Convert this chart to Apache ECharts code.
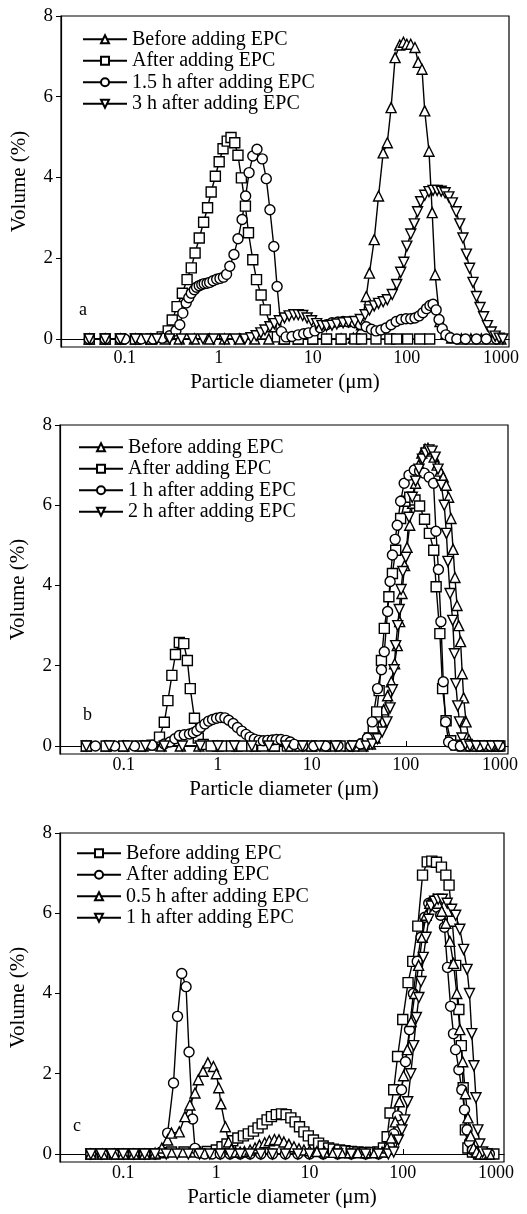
<!DOCTYPE html>
<html>
<head>
<meta charset="utf-8">
<title>Particle size distribution after adding EPC</title>
<script src="https://cdn.jsdelivr.net/npm/echarts@6.0.0/dist/echarts.min.js"></script>
<style>
  body { margin: 0; background: #fff; }
  .panel { position: absolute; left: 0; width: 527px; }
</style>
</head>
<body>
<div id="pa" class="panel" style="top:0;height:400px"></div>
<div id="pb" class="panel" style="top:400px;height:408px"></div>
<div id="pc" class="panel" style="top:808px;height:406px"></div>
<script>
// [particle diameter (um), volume (%)]

// panel a
var namesA = ['Before adding EPC', 'After adding EPC', '1.5 h after adding EPC', '3 h after adding EPC'];
var aBefore = [[0.042,0],[0.062,0],[0.09,0],[0.13,0],[0.19,0],[0.27,0],[0.38,0],[0.55,0],[0.8,0],[1.15,0],[1.65,0],[2.4,0],[3.4,0],[4.9,0],[7,0],[10,0],[14,0],[20,0],[27,0.02],[33,0.35],[37,1.05],[40,1.63],[45,2.46],[50,3.54],[56,4.61],[62,4.86],[68,5.73],[75,6.97],[84,7.28],[92,7.35],[100,7.3],[110,7.3],[122,7.22],[132,6.85],[145,6.68],[155,5.65],[172,4.65],[186,3.13],[200,1.59],[225,0.43],[260,0.13],[300,0.02],[380,0],[480,0],[620,0],[800,0],[1000,0]];
var aAfter = [[0.042,0],[0.062,0],[0.09,0],[0.13,0],[0.19,0],[0.25,0.05],[0.29,0.2],[0.32,0.47],[0.36,0.8],[0.41,1.13],[0.46,1.47],[0.51,1.76],[0.56,2.13],[0.62,2.5],[0.69,2.89],[0.76,3.25],[0.83,3.64],[0.92,4.03],[1.01,4.39],[1.11,4.71],[1.23,4.9],[1.35,4.99],[1.48,4.86],[1.6,4.55],[1.74,3.99],[1.92,3.29],[2.07,2.63],[2.3,1.96],[2.52,1.47],[2.82,1.09],[3.12,0.72],[3.6,0.3],[4.2,0.05],[5,0],[7,0],[10,0],[14,0],[20,0],[28,0],[33,0],[47,0],[66,0],[78,0],[102,0],[137,0],[175,0]];
var a15h = [[0.042,0],[0.062,0],[0.09,0],[0.1,0],[0.15,0],[0.2,0],[0.25,0.02],[0.3,0.08],[0.35,0.2],[0.385,0.35],[0.415,0.64],[0.45,0.89],[0.48,1.02],[0.51,1.13],[0.55,1.22],[0.58,1.28],[0.62,1.32],[0.66,1.35],[0.7,1.37],[0.75,1.38],[0.8,1.4],[0.87,1.44],[0.95,1.48],[1.03,1.5],[1.12,1.53],[1.21,1.6],[1.31,1.8],[1.45,2.09],[1.6,2.48],[1.77,2.96],[1.93,3.54],[2.1,4.12],[2.3,4.53],[2.55,4.7],[2.9,4.46],[3.2,3.97],[3.5,3.2],[3.85,2.29],[4.17,1.3],[4.64,0.18],[5.2,0.05],[6,0.06],[7,0.1],[8,0.13],[9,0.15],[10.5,0.2],[12,0.28],[14,0.35],[16,0.4],[18.5,0.42],[21,0.43],[24,0.42],[28,0.4],[32,0.36],[37,0.3],[42,0.24],[47,0.2],[53,0.22],[60,0.27],[68,0.35],[77,0.43],[87,0.48],[98,0.5],[110,0.5],[122,0.52],[135,0.57],[148,0.65],[162,0.75],[176,0.83],[190,0.86],[205,0.72],[220,0.48],[238,0.25],[260,0.1],[290,0.03],[340,0],[420,0],[550,0],[700,0],[900,0]];
var a3h = [[0.042,0],[0.062,0],[0.09,0],[0.13,0],[0.17,0],[0.22,0],[0.3,0],[0.4,0],[0.52,0],[0.68,0],[0.88,0],[1.15,0],[1.5,0],[1.9,0],[2.2,0.03],[2.5,0.08],[2.8,0.15],[3.1,0.22],[3.5,0.3],[3.9,0.38],[4.4,0.45],[5,0.52],[5.6,0.57],[6.3,0.6],[7,0.6],[7.8,0.58],[8.7,0.52],[9.7,0.45],[11,0.38],[12.5,0.33],[14,0.32],[16,0.34],[18,0.37],[21,0.4],[24,0.42],[28,0.43],[32,0.48],[36,0.6],[40,0.72],[45,0.82],[50,0.88],[56,0.92],[62,0.97],[70,1.1],[78,1.35],[86,1.65],[93,1.9],[100,2.3],[110,2.6],[120,2.85],[130,3.15],[140,3.4],[155,3.56],[172,3.65],[190,3.68],[210,3.68],[232,3.66],[255,3.62],[280,3.52],[305,3.37],[335,3.15],[365,2.85],[395,2.5],[430,2.1],[465,1.75],[505,1.4],[550,1.05],[600,0.78],[655,0.55],[720,0.33],[790,0.17],[870,0.07],[960,0.02],[1050,0]];

// panel b
var namesB = ['Before adding EPC', 'After adding EPC', '1 h after adding EPC', '2 h after adding EPC'];
var bBefore = [[0.04,0],[0.065,0],[0.1,0],[0.16,0],[0.25,0],[0.4,0],[0.63,0],[1,0],[1.6,0],[2.5,0],[4,0],[6.3,0],[10,0],[16,0],[25,0],[35,0],[42,0.05],[47,0.2],[52,0.5],[58,0.9],[64,1.25],[70,1.6],[76,2.05],[81,2.5],[86,3.1],[91,3.8],[97,4.5],[103,4.95],[110,5.5],[118,6.05],[127,6.55],[137,7.0],[148,7.3],[160,7.4],[172,7.42],[186,7.35],[200,7.2],[215,7.0],[232,6.85],[250,6.7],[268,6.5],[285,6.2],[302,5.67],[318,4.9],[333,4.2],[350,3.5],[365,3.0],[382,2.6],[398,1.8],[412,1.2],[437,0.6],[470,0.15],[510,0.03],[580,0],[680,0],[800,0],[950,0]];
var bAfter = [[0.04,0],[0.065,0],[0.1,0],[0.15,0],[0.2,0.02],[0.24,0.22],[0.27,0.59],[0.295,1.13],[0.325,1.76],[0.355,2.28],[0.39,2.58],[0.435,2.55],[0.475,2.13],[0.51,1.43],[0.565,0.69],[0.62,0.2],[0.7,0.04],[0.85,0],[1.1,0],[1.4,0],[1.8,0],[2.3,0],[3,0],[4,0],[5.5,0],[7.5,0],[10,0],[14,0],[20,0],[28,0],[36,0.05],[41,0.2],[45,0.45],[49,0.85],[52,1.38],[55,2.13],[59,2.93],[66,3.72],[72,4.3],[78,4.88],[88,5.67],[98,6.1],[110,6.2],[125,6.13],[140,5.98],[158,5.65],[178,5.3],[198,4.88],[210,3.97],[230,2.8],[246,1.43],[268,0.63],[300,0.13],[340,0.02],[400,0],[500,0],[650,0],[850,0],[1000,0]];
var b1h = [[0.05,0],[0.08,0],[0.13,0],[0.2,0.02],[0.27,0.05],[0.31,0.1],[0.35,0.18],[0.39,0.26],[0.44,0.28],[0.5,0.3],[0.55,0.33],[0.6,0.38],[0.66,0.47],[0.73,0.55],[0.8,0.62],[0.88,0.66],[0.97,0.69],[1.07,0.71],[1.19,0.7],[1.31,0.64],[1.46,0.56],[1.62,0.46],[1.8,0.37],[2.0,0.29],[2.2,0.22],[2.45,0.17],[2.75,0.14],[3.05,0.13],[3.4,0.14],[3.8,0.15],[4.2,0.16],[4.7,0.16],[5.3,0.14],[5.9,0.1],[6.5,0.04],[8,0],[10.5,0],[14,0],[19,0],[26,0],[33,0.05],[39,0.2],[44,0.6],[50,1.43],[55,1.9],[59,2.35],[64,3.35],[68,4.1],[72,4.76],[77,5.15],[81,5.5],[88,6.1],[96,6.55],[108,6.75],[123,6.88],[140,6.85],[157,6.8],[177,6.7],[197,6.55],[209,5.35],[222,4.4],[236,3.1],[250,1.6],[265,0.6],[285,0.1],[320,0.02],[380,0],[470,0],[600,0],[800,0],[1000,0]];
var b2h = [[0.04,0],[0.07,0],[0.11,0],[0.17,0],[0.27,0],[0.42,0],[0.65,0],[1,0],[1.5,0],[2.3,0],[3.5,0],[5.3,0],[8,0],[12,0],[18,0],[27,0],[38,0],[44,0.05],[50,0.18],[56,0.35],[63,0.6],[68,0.95],[72,1.4],[75,1.9],[78,2.5],[82,3.0],[85,3.4],[89,3.9],[93,4.35],[100,4.7],[108,5.7],[117,6.2],[127,6.6],[138,6.9],[150,7.15],[163,7.3],[176,7.38],[190,7.35],[205,7.2],[220,6.9],[238,6.5],[256,6.0],[270,5.3],[280,4.6],[295,3.8],[315,3.13],[328,2.3],[340,1.55],[356,1.0],[372,0.6],[395,0.2],[430,0.04],[480,0],[560,0],[680,0],[820,0],[960,0]];

// panel c
var namesC = ['Before adding EPC', 'After adding EPC', '0.5 h after adding EPC', '1 h after adding EPC'];
var cBefore = [[0.045,0],[0.06,0],[0.08,0],[0.1,0],[0.13,0],[0.17,0],[0.22,0],[0.27,0.03],[0.33,0.05],[0.45,0.05],[0.6,0.05],[0.8,0.06],[1.0,0.1],[1.15,0.18],[1.3,0.25],[1.5,0.33],[1.7,0.4],[1.95,0.45],[2.2,0.5],[2.5,0.57],[2.8,0.65],[3.1,0.75],[3.5,0.85],[3.9,0.93],[4.4,0.98],[5,1.0],[5.6,0.98],[6.3,0.9],[7,0.8],[7.8,0.68],[8.7,0.55],[9.7,0.45],[11,0.35],[12.5,0.27],[14,0.2],[16,0.15],[18,0.12],[21,0.1],[24,0.08],[28,0.06],[33,0.05],[39,0.04],[46,0.04],[54,0.05],[62,0.15],[68,0.43],[73,1.02],[80,1.6],[88,2.43],[100,3.35],[114,4.27],[128,4.8],[145,5.68],[163,6.95],[183,7.28],[205,7.3],[230,7.27],[260,7.15],[290,6.95],[314,6.7],[340,5.8],[370,4.7],[400,3.6],[425,2.7],[445,1.65],[470,0.6],[500,0.15],[560,0.05],[650,0],[800,0],[950,0]];
var cAfter = [[0.045,0],[0.06,0],[0.08,0],[0.1,0],[0.13,0],[0.17,0],[0.22,0],[0.26,0.05],[0.3,0.52],[0.347,1.77],[0.383,3.43],[0.425,4.5],[0.473,4.17],[0.509,2.54],[0.556,0.87],[0.59,0.14],[0.65,0.02],[0.75,0],[0.9,0],[1.1,0],[1.4,0],[1.8,0],[2.3,0],[3,0],[4,0],[5.5,0],[7.5,0],[10,0],[14,0],[20,0],[28,0],[40,0],[55,0],[66,0.05],[72,0.2],[80,0.5],[88,0.95],[97,1.6],[107,2.3],[118,3.1],[130,4.0],[143,4.8],[157,5.4],[172,5.9],[190,6.25],[210,6.3],[232,6.15],[255,5.95],[280,5.65],[302,4.65],[326,3.68],[350,3.0],[369,2.6],[400,2.1],[430,1.6],[460,1.1],[490,0.6],[520,0.3],[560,0.1],[620,0.02],[700,0],[850,0]];
var c05h = [[0.045,0],[0.06,0],[0.08,0],[0.1,0],[0.13,0],[0.17,0],[0.22,0.02],[0.26,0.15],[0.3,0.35],[0.33,0.52],[0.4,0.55],[0.46,0.93],[0.52,1.22],[0.59,1.52],[0.64,1.85],[0.72,2.06],[0.81,2.27],[0.93,2.18],[1.0,2.0],[1.06,1.65],[1.12,1.25],[1.25,0.68],[1.35,0.3],[1.45,0.12],[1.6,0.05],[1.8,0.05],[2.0,0.06],[2.3,0.1],[2.6,0.15],[2.9,0.22],[3.3,0.28],[3.7,0.33],[4.2,0.36],[4.7,0.35],[5.3,0.3],[6,0.24],[6.8,0.18],[7.7,0.13],[8.7,0.1],[10,0.08],[12,0.06],[14.5,0.05],[18,0.04],[22,0.03],[27,0.03],[33,0.03],[40,0.03],[50,0.03],[60,0.05],[68,0.15],[75,0.4],[83,0.8],[92,1.3],[102,1.95],[112,2.6],[123,3.3],[135,4.0],[148,4.7],[162,5.4],[178,5.95],[195,6.25],[215,6.35],[238,6.25],[262,6.05],[290,5.75],[320,5.3],[350,4.75],[380,4.0],[410,3.1],[440,2.3],[470,1.5],[500,0.9],[535,0.45],[575,0.15],[620,0.05],[680,0],[760,0],[850,0]];
var c1h = [[0.045,0],[0.058,0],[0.075,0],[0.1,0],[0.13,0],[0.17,0],[0.22,0],[0.29,0],[0.38,0],[0.5,0],[0.66,0],[0.85,0],[1.1,0],[1.4,0],[1.8,0],[2.3,0],[3,0],[4,0],[5.5,0],[7.5,0],[10,0],[14,0],[20,0],[28,0],[40,0],[55,0],[70,0],[80,0.05],[90,0.35],[98,0.6],[105,0.85],[113,1.3],[122,2.0],[131,2.7],[140,3.4],[149,3.9],[157,4.3],[166,4.9],[178,5.4],[190,5.85],[201,6.18],[220,6.3],[240,6.35],[266,6.35],[300,6.25],[335,6.1],[370,5.95],[410,5.6],[450,5.1],[490,4.6],[520,4.0],[550,3.0],[580,2.2],[610,1.4],[640,0.6],[670,0.25],[720,0.05],[800,0]];

var yTicks = [0, 2, 4, 6, 8];

var FONT = '"Liberation Serif", "Times New Roman", serif';
var TRI = 'triangle', SQR = 'rect', CIR = 'circle', INV = 'path://M0,0L10,0L5,9Z';

function drawPanel(id, p) {
  var chart = echarts.init(document.getElementById(id));
  var series = p.names.map(function (name, i) {
    return {
      name: name,
      type: 'line',
      data: p.data[i],
      symbol: p.symbols[i],
      symbolSize: 10,
      lineStyle: { color: '#000', width: 1.4 },
      itemStyle: { color: '#fff', borderColor: '#000', borderWidth: 1.4 },
      emphasis: { disabled: true }
    };
  });
  chart.setOption({
    animation: false,
    title: {
      text: p.letter, left: p.letterPos[0], top: p.letterPos[1], padding: 0,
      textStyle: { fontFamily: FONT, fontSize: 18, fontWeight: 'normal', color: '#000' }
    },
    legend: {
      data: p.names, orient: 'vertical', left: p.legendPos[0], top: p.legendPos[1],
      itemWidth: 44, itemHeight: 10, itemGap: 1, padding: 0,
      textStyle: { fontFamily: FONT, fontSize: 20, color: '#000', lineHeight: 20.5 }
    },
    grid: {
      left: p.grid[0], top: p.grid[1], right: p.grid[2], bottom: p.grid[3],
      show: true, borderColor: '#000', borderWidth: 1.2
    },
    xAxis: {
      type: 'log', logBase: 10, min: 0.021, max: 1220,
      name: 'Particle diameter (\u03bcm)', nameLocation: 'middle', nameGap: 22,
      nameTextStyle: { fontFamily: FONT, fontSize: 21, color: '#000' },
      axisLine: { lineStyle: { color: '#000', width: 1.2 } },
      axisTick: { inside: true, length: 5, lineStyle: { color: '#000' } },
      axisLabel: {
        fontFamily: FONT, fontSize: 18, color: '#000', margin: 2,
        showMinLabel: false, showMaxLabel: false,
        formatter: function (v) { return String(Number(v.toPrecision(4))); }
      },
      splitLine: { show: false }
    },
    yAxis: {
      type: 'value', min: -0.2, max: 8,
      name: 'Volume (%)', nameLocation: 'middle', nameGap: 31,
      nameTextStyle: { fontFamily: FONT, fontSize: 21, color: '#000' },
      axisLine: { show: true, lineStyle: { color: '#000', width: 1.2 } },
      axisTick: { show: true, inside: false, length: 5, customValues: yTicks, lineStyle: { color: '#000' } },
      axisLabel: { fontFamily: FONT, fontSize: 19, color: '#000', margin: 8, customValues: yTicks },
      splitLine: { show: false }
    },
    series: series
  });
}

drawPanel('pa', {
  names: namesA, data: [aBefore, aAfter, a15h, a3h], symbols: [TRI, SQR, CIR, INV],
  grid: [61, 16, 18, 53], legendPos: [82, 29], letter: 'a', letterPos: [79, 301]
});
drawPanel('pb', {
  names: namesB, data: [bBefore, bAfter, b1h, b2h], symbols: [TRI, SQR, CIR, INV],
  grid: [59, 25, 19, 54], legendPos: [78, 37], letter: 'b', letterPos: [83, 306]
});
drawPanel('pc', {
  names: namesC, data: [cBefore, cAfter, c05h, c1h], symbols: [SQR, CIR, TRI, INV],
  grid: [57, 25, 23, 52], legendPos: [76, 35], letter: 'c', letterPos: [73, 309]
});
</script>
</body>
</html>
